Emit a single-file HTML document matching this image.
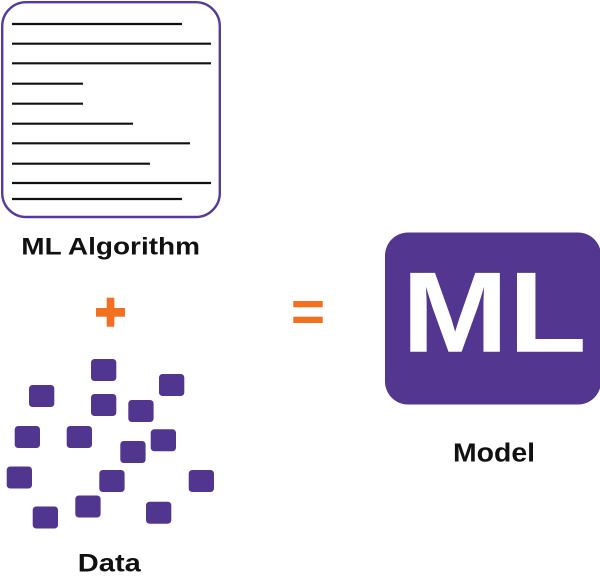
<!DOCTYPE html>
<html>
<head>
<meta charset="utf-8">
<style>
  html, body { margin: 0; padding: 0; background: #ffffff; }
  body { width: 600px; height: 577px; overflow: hidden; }
  svg { display: block; }
  text { font-family: "Liberation Sans", "DejaVu Sans", sans-serif; font-weight: bold; }
</style>
</head>
<body>
<svg width="600" height="577" viewBox="0 0 600 577" xmlns="http://www.w3.org/2000/svg">
  <rect x="0" y="0" width="600" height="577" fill="#ffffff"/>

  <!-- Algorithm document box -->
  <rect x="2.2" y="2.2" width="217.6" height="214.8" rx="24" ry="24" fill="#ffffff" stroke="#553a9c" stroke-width="2.4"/>
  <g stroke="#111111" stroke-width="2.2" stroke-linecap="butt">
    <line x1="12" y1="24" x2="182" y2="24"/>
    <line x1="12" y1="43.7" x2="211" y2="43.7"/>
    <line x1="12" y1="63.3" x2="211" y2="63.3"/>
    <line x1="12" y1="83.7" x2="83" y2="83.7"/>
    <line x1="12" y1="103.7" x2="83" y2="103.7"/>
    <line x1="12" y1="123.7" x2="133" y2="123.7"/>
    <line x1="12" y1="143.3" x2="190" y2="143.3"/>
    <line x1="12" y1="163.7" x2="150" y2="163.7"/>
    <line x1="12" y1="183" x2="211" y2="183"/>
    <line x1="12" y1="199" x2="182" y2="199"/>
  </g>

  <text x="21.3" y="254.3" font-size="24.5" fill="#111111" textLength="178.7" lengthAdjust="spacingAndGlyphs">ML Algorithm</text>

  <!-- plus -->
  <rect x="96" y="308" width="29" height="8.7" fill="#f37021"/>
  <rect x="106.7" y="297.7" width="7.6" height="29" fill="#f37021"/>

  <!-- equals -->
  <rect x="293.3" y="301" width="29.4" height="6.3" fill="#f37021"/>
  <rect x="293.3" y="316.7" width="29.4" height="6.3" fill="#f37021"/>

  <!-- data squares -->
  <g fill="#51368f">
    <rect x="91" y="359" width="25.3" height="22" rx="3.5"/>
    <rect x="159" y="374" width="25.3" height="22" rx="3.5"/>
    <rect x="29" y="385" width="25.3" height="22" rx="3.5"/>
    <rect x="91" y="394" width="25.3" height="22" rx="3.5"/>
    <rect x="128.3" y="400" width="25.3" height="22" rx="3.5"/>
    <rect x="14.7" y="426" width="25.3" height="22" rx="3.5"/>
    <rect x="66.7" y="426" width="25.3" height="22" rx="3.5"/>
    <rect x="150.7" y="429.3" width="25.3" height="22" rx="3.5"/>
    <rect x="120.3" y="441" width="25.3" height="22" rx="3.5"/>
    <rect x="6.7" y="466.5" width="25.3" height="22" rx="3.5"/>
    <rect x="99.3" y="470" width="25.3" height="22" rx="3.5"/>
    <rect x="188.7" y="470" width="25.3" height="22" rx="3.5"/>
    <rect x="75.3" y="495.5" width="25.3" height="22" rx="3.5"/>
    <rect x="32.7" y="506.5" width="25.3" height="22" rx="3.5"/>
    <rect x="146" y="501.7" width="25.3" height="22" rx="3.5"/>
  </g>

  <text x="77.8" y="571.5" font-size="24.7" fill="#111111" textLength="63" lengthAdjust="spacingAndGlyphs">Data</text>

  <!-- Model box -->
  <rect x="385" y="232.5" width="216" height="172" rx="23" ry="23" fill="#52368f"/>
  <text x="401.7" y="351.7" font-size="114.5" fill="#ffffff" textLength="185" lengthAdjust="spacingAndGlyphs">ML</text>

  <text x="453" y="461.5" font-size="25.5" fill="#111111" textLength="82" lengthAdjust="spacingAndGlyphs">Model</text>
</svg>
</body>
</html>
